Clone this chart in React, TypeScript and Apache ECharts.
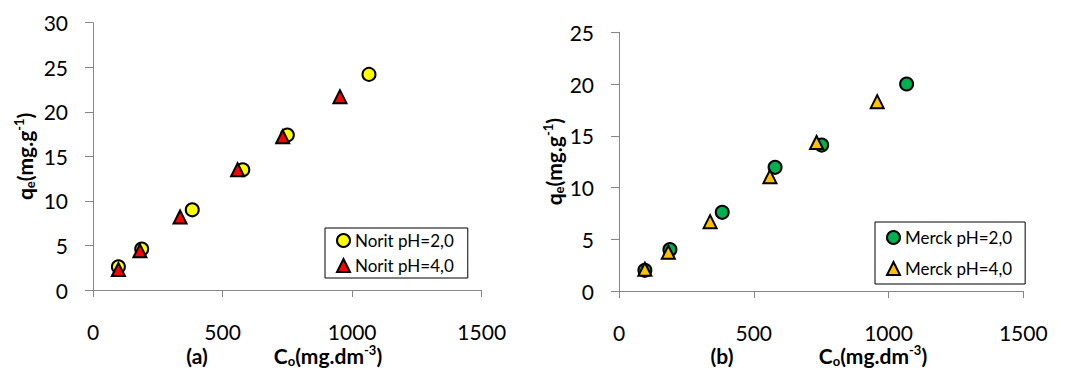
import { useEffect, useRef } from "react";
import * as echarts from "echarts";

// Norit (a)
const noritX2 = [98, 188, 383, 578, 750, 1065];
const noritY2 = [2.6, 4.6, 9.0, 13.5, 17.4, 24.2];
const noritX4 = [98, 181, 336, 558, 732, 953];
const noritY4 = [2.3, 4.4, 8.2, 13.5, 17.2, 21.7];
// Merck (b)
const merckX2 = [96, 189, 383, 579, 752, 1067];
const merckY2 = [2.0, 4.0, 7.6, 11.95, 14.1, 20.0];
const merckX4 = [96, 183, 338, 560, 733, 958];
const merckY4 = [2.1, 3.75, 6.7, 11.05, 14.35, 18.3];

const xTicks = [0, 500, 1000, 1500];
const yTicksA = [0, 5, 10, 15, 20, 25, 30];
const yTicksB = [0, 5, 10, 15, 20, 25];

const zip = (xs: number[], ys: number[]) => xs.map((x, i) => [x, ys[i]]);

const FONT = "Lato, 'Open Sans', sans-serif";
const AXIS_GRAY = "#868686";

const yName = "{b|q}{sub|e}{b|(mg.g}{sup|-1}{b|)}";
const xName = "{b|C}{sub|o}{b|(mg.dm}{sup|-3}{b|)}";
const richStyles = {
  b: { fontSize: 21, fontWeight: "bold", fontFamily: FONT, color: "#000", lineHeight: 24, verticalAlign: "middle" },
  sub: { fontSize: 13, fontWeight: "bold", fontFamily: FONT, color: "#000", lineHeight: 10, verticalAlign: "bottom" },
  sup: { fontSize: 13, fontWeight: "bold", fontFamily: FONT, color: "#000", lineHeight: 10, verticalAlign: "top" },
};

function makeX(gridIndex: number) {
  return {
    type: "value",
    gridIndex,
    min: xTicks[0],
    max: xTicks[xTicks.length - 1],
    interval: 500,
    splitLine: { show: false },
    axisLine: { show: true, lineStyle: { color: AXIS_GRAY, width: 1 } },
    axisTick: { show: true, inside: false, length: 7, lineStyle: { color: AXIS_GRAY } },
    axisLabel: { color: "#000", fontSize: 21, lineHeight: 18, fontFamily: FONT, margin: 32, formatter: (v: number) => String(v) },
  };
}

function makeY(gridIndex: number, ticks: number[], nameGap: number) {
  return {
    type: "value",
    gridIndex,
    min: ticks[0],
    max: ticks[ticks.length - 1],
    interval: 5,
    splitLine: { show: false },
    axisLine: { show: true, lineStyle: { color: AXIS_GRAY, width: 1 } },
    axisTick: { show: true, inside: false, length: 8, lineStyle: { color: AXIS_GRAY } },
    axisLabel: { color: "#000", fontSize: 21, fontFamily: FONT, margin: 25, formatter: (v: number) => String(v) },
    name: yName,
    nameLocation: "middle",
    nameRotate: 90,
    nameGap,
    nameTextStyle: { rich: richStyles },
  };
}

export default function App() {
  const ref = useRef<HTMLDivElement>(null);
  useEffect(() => {
    if (!ref.current) return;
    const chart = echarts.init(ref.current, undefined, { renderer: "svg" });
    const legendBase = {
      orient: "vertical",
      borderColor: "#000",
      borderWidth: 1,
      itemWidth: 13,
      itemHeight: 13,
      backgroundColor: "#fff",
      textStyle: { color: "#000", fontSize: 17, fontFamily: FONT },
    };
    chart.setOption({
      animation: false,
      grid: [
        { left: 93, top: 22.7, width: 388.7, height: 267.3 },
        { left: 619, top: 32.3, width: 404.3, height: 258.7 },
      ],
      xAxis: [makeX(0), makeX(1)],
      yAxis: [makeY(0, yTicksA, 57), makeY(1, yTicksB, 45)],
      legend: [
        {
          ...legendBase,
          left: 325,
          top: 228,
          padding: [4, 14, 4, 11],
          itemGap: 8,
          data: ["Norit pH=2,0", "Norit pH=4,0"],
        },
        {
          ...legendBase,
          left: 875,
          top: 222,
          padding: [7, 13, 7, 11],
          itemGap: 14,
          data: ["Merck pH=2,0", "Merck pH=4,0"],
        },
      ],
      series: [
        {
          name: "Norit pH=2,0",
          type: "scatter",
          xAxisIndex: 0,
          yAxisIndex: 0,
          symbol: "circle",
          symbolSize: 13,
          itemStyle: { color: "#FFFF00", borderColor: "#000", borderWidth: 2, opacity: 1 },
          data: zip(noritX2, noritY2),
        },
        {
          name: "Norit pH=4,0",
          type: "scatter",
          xAxisIndex: 0,
          yAxisIndex: 0,
          symbol: "triangle",
          symbolSize: 13,
          itemStyle: { color: "#FF0000", borderColor: "#000", borderWidth: 2, opacity: 1 },
          data: zip(noritX4, noritY4),
        },
        {
          name: "Merck pH=2,0",
          type: "scatter",
          xAxisIndex: 1,
          yAxisIndex: 1,
          symbol: "circle",
          symbolSize: 13,
          itemStyle: { color: "#00B050", borderColor: "#000", borderWidth: 2, opacity: 1 },
          data: zip(merckX2, merckY2),
        },
        {
          name: "Merck pH=4,0",
          type: "scatter",
          xAxisIndex: 1,
          yAxisIndex: 1,
          symbol: "triangle",
          symbolSize: 13,
          itemStyle: { color: "#FFC000", borderColor: "#000", borderWidth: 2, opacity: 1 },
          data: zip(merckX4, merckY4),
        },
      ],
      graphic: [
        {
          type: "text",
          x: 197,
          y: 355,
          style: { text: "(a)", font: `bold 21px ${FONT}`, fill: "#000", align: "center", verticalAlign: "middle" },
        },
        {
          type: "text",
          x: 328,
          y: 355,
          style: { text: xName, rich: richStyles, align: "center", verticalAlign: "middle" },
        },
        {
          type: "text",
          x: 722,
          y: 355,
          style: { text: "(b)", font: `bold 21px ${FONT}`, fill: "#000", align: "center", verticalAlign: "middle" },
        },
        {
          type: "text",
          x: 873,
          y: 355,
          style: { text: xName, rich: richStyles, align: "center", verticalAlign: "middle" },
        },
      ],
    });
    return () => chart.dispose();
  }, []);
  return (
    <div
      ref={ref}
      style={{ position: "fixed", left: 0, top: 0, width: 1067, height: 369, background: "#fff" }}
    />
  );
}
